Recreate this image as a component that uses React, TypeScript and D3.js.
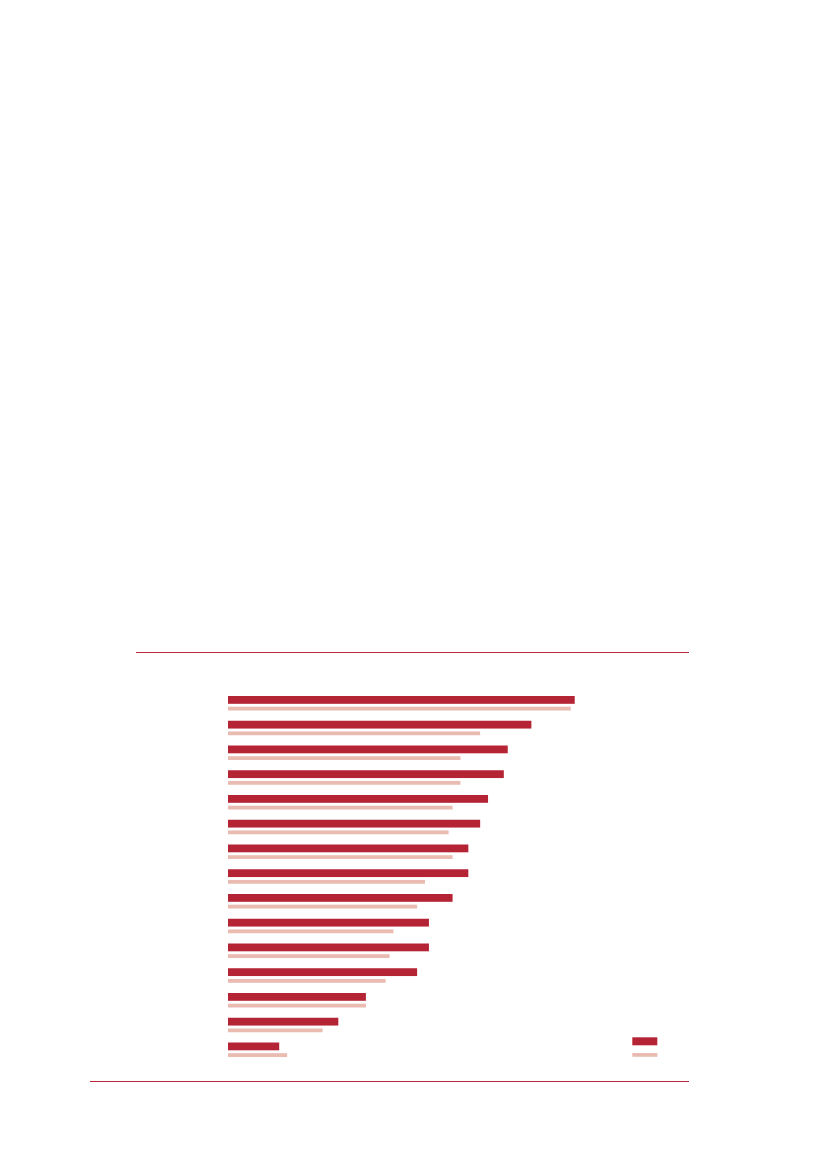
import * as d3 from 'd3';
import React from 'react';

// categories (no labels shown in the chart) and two series
const categories = d3.range(1, 16).map((i) => `c${i}`);
const seriesA = [88, 77, 71, 70, 66, 64, 61, 61, 57, 51, 51, 48, 35, 28, 13];
const seriesB = [87, 64, 59, 59, 57, 56, 57, 50, 48, 42, 41, 40, 35, 24, 15];
const legendKeys = ['A', 'B'];

const W = 827;
const H = 1169;
const DARK = '#b52434';
const LIGHT = '#e9bbb1';
const RULE = '#b8283c';

export default function App() {
  const x = d3.scaleLinear().domain([0, 100]).range([228, 622]);
  const y = d3
    .scaleBand<string>()
    .domain(categories)
    .range([696, 696 + categories.length * 24.75])
    .paddingInner(0)
    .paddingOuter(0);

  const legendY = d3.scaleOrdinal<string, number>().domain(legendKeys).range([1037.3, 1053]);

  return (
    <svg
      width={W}
      height={H}
      style={{ position: 'absolute', left: 0, top: 0, background: '#fff' }}
    >
      {/* top and bottom rules */}
      <line x1={136} x2={689} y1={652.5} y2={652.5} stroke={RULE} strokeWidth={1} />
      <line x1={90} x2={689} y1={1081.5} y2={1081.5} stroke={RULE} strokeWidth={1} />

      <g>
        {categories.map((c, i) => (
          <g key={c}>
            <rect
              x={x(0)}
              y={y(c)}
              width={x(seriesA[i]) - x(0)}
              height={7.8}
              fill={DARK}
            />
            <rect
              x={x(0)}
              y={(y(c) as number) + 10.7}
              width={x(seriesB[i]) - x(0)}
              height={3.8}
              fill={LIGHT}
            />
          </g>
        ))}
      </g>

      {/* legend swatches */}
      <rect x={632.3} y={legendY('A')} width={25} height={8} fill={DARK} />
      <rect x={632.3} y={legendY('B')} width={25} height={3.8} fill={LIGHT} />
    </svg>
  );
}
